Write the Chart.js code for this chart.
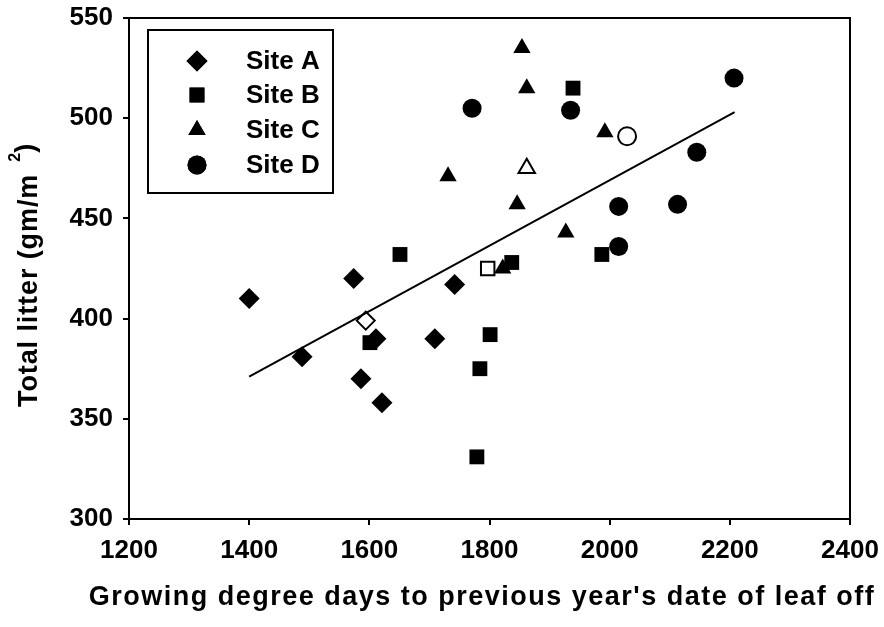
<!DOCTYPE html>
<html>
<head>
<meta charset="utf-8">
<script src="https://cdn.jsdelivr.net/npm/chart.js@4"></script>
<style>
  html, body { margin: 0; padding: 0; background: #fff; }
</style>
</head>
<body>
<canvas id="chart" width="884" height="627"></canvas>
<script>
// values
const siteA_x = [1400, 1488, 1574, 1586, 1611, 1621, 1709, 1742];
const siteA_y = [410, 381, 420, 370, 390, 358, 390, 417];
const siteB_x = [1601, 1651, 1779, 1784, 1801, 1837, 1939, 1987];
const siteB_y = [388, 432, 331, 375, 392, 428, 515, 432];
const siteC_x = [1731, 1822, 1846, 1854, 1862, 1927, 1992];
const siteC_y = [471, 425, 457, 535, 515, 443, 493];
const siteD_x = [1771, 1935, 2015, 2015, 2113, 2145, 2207];
const siteD_y = [505, 504, 456, 436, 457, 483, 520];

// open symbols (site means)
const mean_x = [1594, 1797, 1862, 2029];
const mean_y = [399, 425, 475, 491];
const mean_style = ['rectRot', 'rect', 'triangle', 'circle'];

// fitted line ends
const fit_x = [1400, 2208];
const fit_y = [371, 503];

const siteLabels = ['Site A', 'Site B', 'Site C', 'Site D'];
const siteStyles = ['rectRot', 'rect', 'triangle', 'circle'];
const siteRadius = [10.5, 10.5, 10, 9.5];

const xTitle = "Growing degree days to previous year's date of leaf off";
const yTitle = 'Total litter (gm/m';

const FONT = "'Liberation Sans', Arial, sans-serif";

const pts = (xs, ys) => xs.map((x, i) => ({x: x, y: ys[i]}));

const siteSet = (i, xs, ys) => ({
    label: siteLabels[i],
    data: pts(xs, ys),
    pointStyle: siteStyles[i],
    pointRadius: siteRadius[i],
    pointHoverRadius: siteRadius[i],
    backgroundColor: '#000',
    borderColor: '#000',
    borderWidth: 0,
    showLine: false
});

// frame, legend box and axis titles
const extras = {
    id: 'extras',
    afterDraw(chart) {
        const {ctx, chartArea: a} = chart;
        ctx.save();
        ctx.strokeStyle = '#000';
        ctx.fillStyle = '#000';
        ctx.lineWidth = 2;
        ctx.strokeRect(a.left, a.top, a.right - a.left, a.bottom - a.top);

        // legend
        ctx.strokeRect(148, 30, 185, 163);
        const rows = [61, 95, 130, 165];
        ctx.font = 'bold 26px ' + FONT;
        ctx.textBaseline = 'middle';
        ctx.textAlign = 'left';
        rows.forEach((y, i) => {
            Chart.helpers.drawPoint(ctx, {
                pointStyle: siteStyles[i], radius: siteRadius[i], rotation: 0, borderWidth: 0
            }, 197, y);
            ctx.fill();
            ctx.fillText(siteLabels[i], 246, y + 1);
        });

        // x axis title
        ctx.font = 'bold 27px ' + FONT;
        ctx.letterSpacing = '1.5px';
        ctx.textAlign = 'center';
        ctx.fillText(xTitle, 482, 598);

        // y axis title, superscript 2
        ctx.letterSpacing = '0.9px';
        ctx.translate(30, 0);
        ctx.rotate(-Math.PI / 2);
        ctx.textAlign = 'left';
        const w1 = ctx.measureText(yTitle).width;
        const start = -407;
        ctx.fillText(yTitle, start, 0);
        ctx.letterSpacing = '0px';
        ctx.font = 'bold 16px ' + FONT;
        ctx.fillText('2', start + w1 + 12, -14);
        ctx.font = 'bold 27px ' + FONT;
        ctx.fillText(')', start + w1 + 21, -3);
        ctx.restore();
    }
};

new Chart(document.getElementById('chart'), {
    type: 'scatter',
    data: {
        datasets: [
            {
                type: 'line',
                label: 'fit',
                data: pts(fit_x, fit_y),
                borderColor: '#000',
                borderWidth: 2,
                pointRadius: 0,
                fill: false
            },
            siteSet(0, siteA_x, siteA_y),
            siteSet(1, siteB_x, siteB_y),
            siteSet(2, siteC_x, siteC_y),
            siteSet(3, siteD_x, siteD_y),
            {
                label: 'means',
                data: pts(mean_x, mean_y),
                pointStyle: mean_style,
                pointRadius: [9, 9.5, 9.5, 9],
                backgroundColor: '#fff',
                borderColor: '#000',
                borderWidth: 2,
                showLine: false
            }
        ]
    },
    options: {
        responsive: false,
        animation: false,
        devicePixelRatio: 1,
        layout: {padding: {top: 18, right: 34, left: 0, bottom: 0}},
        plugins: {
            legend: {display: false},
            tooltip: {enabled: false}
        },
        scales: {
            x: {
                type: 'linear',
                min: 1200,
                max: 2400,
                ticks: {
                    stepSize: 200,
                    color: '#000',
                    font: {family: FONT, size: 26, weight: 'bold'},
                    padding: 10,
                    maxRotation: 0,
                    callback: v => String(v)
                },
                grid: {drawOnChartArea: false, color: '#000', tickLength: 6, lineWidth: 2},
                border: {color: '#000', width: 2},
                afterFit: s => { s.height = 108; s.paddingLeft = 0; s.paddingRight = 0; }
            },
            y: {
                type: 'linear',
                min: 300,
                max: 550,
                ticks: {
                    stepSize: 50,
                    color: '#000',
                    font: {family: FONT, size: 26, weight: 'bold'},
                    padding: 10,
                    callback: v => String(v)
                },
                grid: {drawOnChartArea: false, color: '#000', tickLength: 6, lineWidth: 2},
                border: {color: '#000', width: 2},
                afterFit: s => { s.width = 129; s.paddingTop = 0; s.paddingBottom = 0; }
            }
        }
    },
    plugins: [extras]
});
</script>
</body>
</html>
